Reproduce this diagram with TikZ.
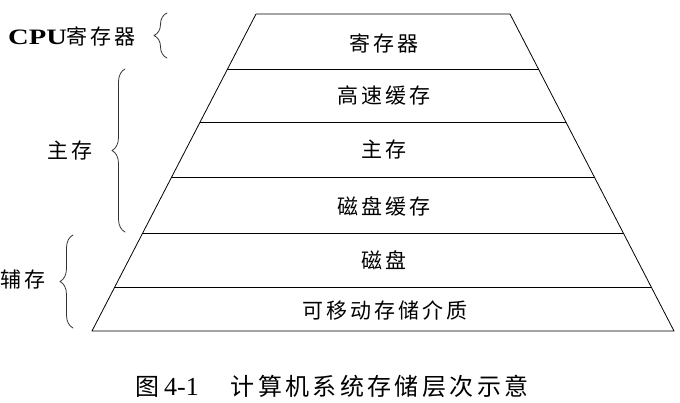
\documentclass[tikz,border=0pt]{standalone}
\usepackage{fontspec}
\setmainfont{Liberation Serif}
\newfontfamily\cjk[LetterSpace=14]{Noto Sans CJK SC}
\newfontfamily\cpufont[FakeStretch=1.3]{Liberation Serif}
\usetikzlibrary{calc,decorations.pathreplacing}

\begin{document}
\begin{tikzpicture}[
    % kiểu chung cho chữ các tầng và nhãn bên trái
    ceng/.style={font=\cjk\fontsize{21}{24}\selectfont, inner sep=0pt},
    kuohao/.style={decorate, decoration={brace, amplitude=13pt}, line width=.8pt, black!80},
    bian/.style={line width=.8pt},
    x=1pt,y=-1pt,line join=round,line cap=round]
  \useasboundingbox (0,0) rectangle (680,402);

  % bốn góc hình thang
  \coordinate (dingL) at (256,14);
  \coordinate (dingR) at (510,14);
  \coordinate (diL) at (92,331);
  \coordinate (diR) at (674,331);
  \draw[bian] (dingL) -- (dingR) -- (diR) -- (diL) -- cycle;

  % các đường ngăn tầng
  \foreach \y in {69,122,177,233,287}
    \draw[bian] ($(dingL)!{(\y-14)/317}!(diL)$) -- ($(dingR)!{(\y-14)/317}!(diR)$);

  % tên các tầng
  \node[ceng] (jicunqi) at (384,43) {寄存器};
  \node[ceng] (gaosu) at (384,96) {高速缓存};
  \node[ceng] (zhucun) at (384,150) {主存};
  \node[ceng] (cphc) at (384,206) {磁盘缓存};
  \node[ceng] (cipan) at (384,260) {磁盘};
  \node[ceng] (yidong) at (385,310) {可移动存储介质};

  % nhãn bên trái và dấu ngoặc
  \node[ceng, anchor=west] (cpu) at (8,36) {{\cpufont\bfseries\fontsize{22}{24}\selectfont CPU}寄存器};
  \node[ceng] (zhu) at (70,151) {主存};
  \node[ceng, anchor=west] (fu) at (0,280) {辅存};
  \draw[kuohao] (167,58) -- (167,13);
  \draw[kuohao] (125,232) -- (125,69);
  \draw[kuohao] (73,328) -- (73,235);

  % chú thích hình
  \node[inner sep=0pt, anchor=west] (tuming) at (135,386)
    {{\cjk\fontsize{24}{26}\selectfont 图}\hspace{5pt}{\fontsize{26}{28}\selectfont 4-1}\hspace{32pt}{\cjk\fontsize{24}{26}\selectfont 计算机系统存储层次示意}};
\end{tikzpicture}
\end{document}
